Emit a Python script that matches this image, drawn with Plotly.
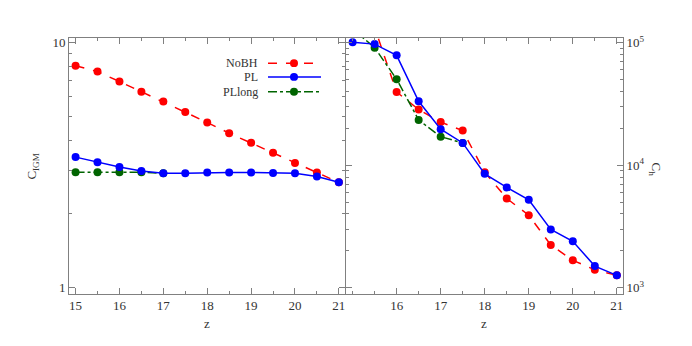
import plotly.graph_objects as go

# redshift grid
z = [15, 15.5, 16, 16.5, 17, 17.5, 18, 18.5, 19, 19.5, 20, 20.5, 21]
z_long = [15, 15.5, 16, 16.5, 17]
z_long_h = [15, 15.5, 16, 16.5, 17, 17.5]

# left panel: C_IGM
cigm_nobh = [8.05, 7.62, 6.94, 6.31, 5.75, 5.21, 4.72, 4.27, 3.90, 3.55, 3.23, 2.95, 2.69]
cigm_pl = [3.41, 3.25, 3.11, 2.99, 2.93, 2.93, 2.95, 2.95, 2.95, 2.94, 2.93, 2.84, 2.69]
cigm_pllong = [2.96, 2.96, 2.96, 2.96, 2.93]

# right panel: C_h
ch_nobh = [160000, 133000, 39600, 28500, 22500, 19200, 8750, 5350, 3900, 2230, 1670, 1400, 1260]
ch_pl = [101000, 97500, 79000, 33300, 19700, 15200, 8500, 6590, 5210, 2990, 2390, 1500, 1260]
ch_pllong = [130000, 91200, 50400, 23400, 17100, 15200]

series_names = ["NoBH", "PL", "PLlong"]
series_colors = ["#ff0000", "#0000ff", "#006400"]
series_dash = ["dash", "solid", "dashdot"]

FONT = "Liberation Serif"
FRAME = "#808080"
W, H = 692, 346

fig = go.Figure()


def add_series(x, y, i, xa, ya):
    fig.add_trace(
        go.Scatter(
            x=x, y=y, xaxis=xa, yaxis=ya, mode="lines+markers",
            line=dict(color=series_colors[i], dash=series_dash[i], width=1.5),
            marker=dict(color=series_colors[i], size=8),
            showlegend=False, cliponaxis=True,
        )
    )


add_series(z, cigm_nobh, 0, "x", "y")
add_series(z_long, cigm_pllong, 2, "x", "y")
add_series(z, cigm_pl, 1, "x", "y")
add_series(z, ch_nobh, 0, "x2", "y2")
add_series(z_long_h, ch_pllong, 2, "x2", "y2")
add_series(z, ch_pl, 1, "x2", "y2")

x_rng = [14.85, 21.14]
y_dom = [1 - 294 / H, 1 - 34 / H]
tickfont = dict(family=FONT, size=13, color="#333333")

ax_common = dict(
    showline=True, linecolor=FRAME, linewidth=1, mirror="ticks",
    ticks="inside", ticklen=6, tickcolor=FRAME, showgrid=False, zeroline=False,
    tickfont=tickfont,
)

fig.update_layout(
    xaxis=dict(
        domain=[69 / W, 345 / W], range=x_rng, anchor="y",
        tickvals=[15, 16, 17, 18, 19, 20, 21],
        minor=dict(tickvals=[15.5, 16.5, 17.5, 18.5, 19.5, 20.5], ticks="inside",
                   ticklen=3, tickcolor=FRAME),
        **ax_common,
    ),
    yaxis=dict(
        domain=y_dom, type="log", range=[-0.025, 1.021], anchor="x",
        tickvals=[1, 10], ticktext=["1", "10"],
        minor=dict(tickvals=[2, 3, 4, 5, 6, 7, 8, 9], ticks="inside",
                   ticklen=3, tickcolor=FRAME),
        **ax_common,
    ),
    xaxis2=dict(
        domain=[346 / W, 623 / W], range=x_rng, anchor="y2",
        tickvals=[16, 17, 18, 19, 20, 21],
        minor=dict(tickvals=[15, 15.5, 16.5, 17.5, 18.5, 19.5, 20.5], ticks="inside",
                   ticklen=3, tickcolor=FRAME),
        **ax_common,
    ),
    yaxis2=dict(
        domain=y_dom, type="log", range=[2.95, 5.043], anchor="x2", side="right",
        tickvals=[1e3, 1e4, 1e5],
        ticktext=["10<sup>3</sup>", "10<sup>4</sup>", "10<sup>5</sup>"],
        minor=dict(tickvals=[m * 10 ** e for e in (3, 4) for m in range(2, 10)],
                   ticks="inside", ticklen=3, tickcolor=FRAME),
        **ax_common,
    ),
    width=W, height=H,
    margin=dict(l=0, r=0, t=0, b=0),
    plot_bgcolor="#ffffff", paper_bgcolor="#ffffff",
    font=dict(family=FONT, size=13, color="#333333"),
    showlegend=False,
)

# axis titles
label_font = dict(family=FONT, size=13, color="#333333")
titles = [
    (207, 324, "z", 0),
    (484, 324, "z", 0),
    (33, 165, "C<sub>IGM</sub>", -90),
    (655, 168, "C<sub>h</sub>", 90),
]
for px, py, txt, ang in titles:
    fig.add_annotation(x=px / W, y=1 - py / H, xref="paper", yref="paper",
                       xanchor="center", yanchor="middle",
                       text=txt, textangle=ang, showarrow=False, font=label_font)

# legend drawn by hand (labels left of the line samples)
legend_rows = [60, 74, 89]
for i, name in enumerate(series_names):
    yy = 1 - legend_rows[i] / H
    fig.add_annotation(x=260 / W, y=yy, xref="paper", yref="paper",
                       xanchor="right", yanchor="middle",
                       text=name, showarrow=False, font=dict(family=FONT, size=12, color="#333333"))
    fig.add_shape(type="line", xref="paper", yref="paper",
                  x0=268 / W, x1=321 / W, y0=yy, y1=yy,
                  line=dict(color=series_colors[i], dash=series_dash[i], width=1.5))
    r = 4
    fig.add_shape(type="circle", xref="paper", yref="paper",
                  x0=(294 - r) / W, x1=(294 + r) / W,
                  y0=yy - r / H, y1=yy + r / H,
                  fillcolor=series_colors[i], line=dict(color=series_colors[i], width=0))

# drop the default page margin so the figure sits at the window's corner
fig.write_html("out.html", config={"displayModeBar": False},
               post_script="document.body.style.margin='0';")
